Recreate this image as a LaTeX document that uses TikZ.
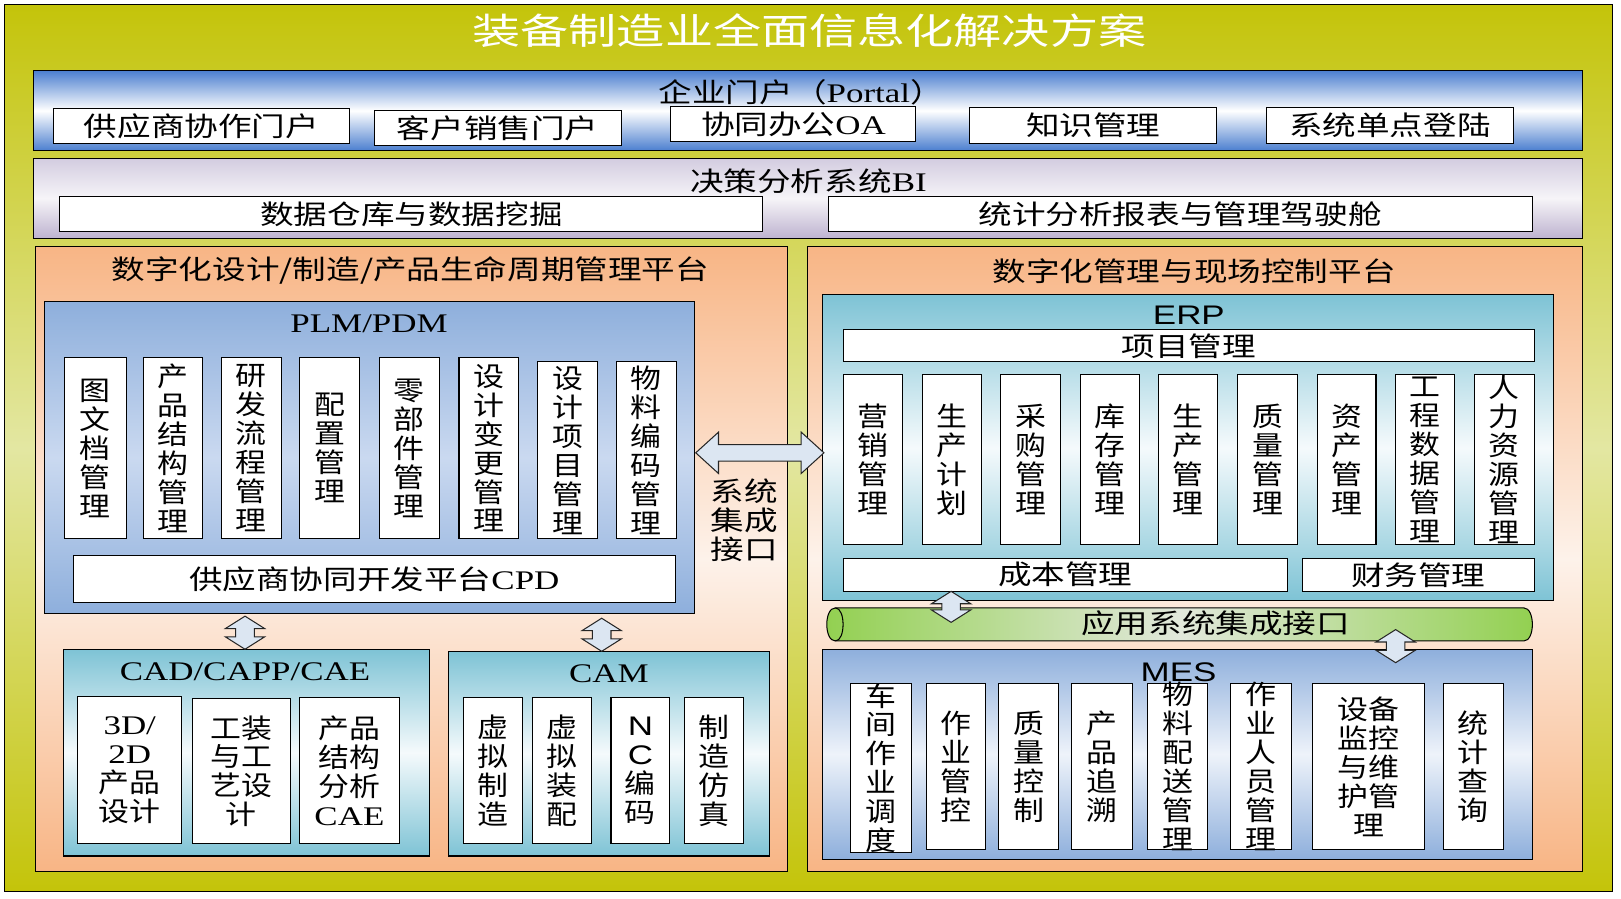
\documentclass[tikz,border=0pt]{standalone}
\usepackage{fontspec}
\usetikzlibrary{fit}
\newfontfamily\cjk[FakeStretch=1.25]{Noto Sans CJK SC}
\newfontfamily\cjv[FakeStretch=1.15]{Noto Sans CJK SC}
\newfontfamily\cjt[FakeStretch=1.33]{Noto Sans CJK SC}
\newfontfamily\latr[FakeStretch=1.3]{Liberation Serif}
\newfontfamily\lats[FakeStretch=1.3]{Liberation Sans}
\newcommand\LR[1]{{\latr #1}}
\newcommand\LS[1]{{\lats #1}}
\definecolor{frD}{HTML}{C4C40A}
\definecolor{frL}{HTML}{E3E7A2}
\definecolor{portB}{HTML}{4A7ECF}
\definecolor{biT}{HTML}{D3CCE0}
\definecolor{biB}{HTML}{BDB2CF}
\definecolor{biM}{HTML}{F6F4F8}
\definecolor{platO}{HTML}{F8B585}
\definecolor{platM}{HTML}{FDF2EA}
\definecolor{plmB}{HTML}{8EAFDC}
\definecolor{plmM}{HTML}{CAD9F0}
\definecolor{tealB}{HTML}{7EC3D5}
\definecolor{tealM}{HTML}{F5FAFC}
\definecolor{mesM}{HTML}{EEF3FA}
\definecolor{pipeG}{HTML}{92D050}
\definecolor{pipeM}{HTML}{E2E8DC}
\definecolor{arrF}{HTML}{DCE6F2}
\newcommand\colbox[6]{\node[box, fit={(#2,#3) (#4,#5)}] (#1) {};
  \node[vtxt] (#1-t) at (#1.center) {#6};}
\newcommand\tbox[6]{\node[box, fit={(#2,#3) (#4,#5)}] (#1) {};
  \node[lbl] (#1-t) at (#1.center) {#6};}
\newcommand\vdarr[3]{\draw[arr] (#1,#2) -- ++(19,12) -- ++(-10,0) -- (#1+9,#3-12) -- ++(10,0) -- (#1,#3) -- ++(-19,-12) -- ++(10,0) -- (#1-9,#2+12) -- ++(-10,0) -- cycle;}
\newcommand\hdarr[3]{\draw[arr] (#2,#1) -- ++(22,-20) -- ++(0,12) -- (#3-22,#1-8) -- ++(0,-12) -- (#3,#1) -- ++(-22,20) -- ++(0,-12) -- (#2+22,#1+8) -- ++(0,12) -- cycle;}
\begin{document}
\begin{tikzpicture}[x=0.5pt,y=-0.5pt,
  box/.style={draw=black, line width=0.5pt, fill=white, inner sep=0pt},
  panel/.style={draw=black, line width=0.5pt, inner sep=0pt},
  lbl/.style={inner sep=0pt, font=\cjk\fontsize{13}{15}\selectfont},
  vtxt/.style={inner sep=0pt, align=center, font=\cjv\fontsize{13}{14}\selectfont},
  ttl/.style={inner sep=0pt, font=\latr\fontsize{13}{15}\selectfont},
  ttls/.style={inner sep=0pt, font=\lats\fontsize{13}{15}\selectfont},
  arr/.style={draw=black!85, line width=0.5pt, fill=arrF, line join=miter}]
\useasboundingbox (0,0) rectangle (1568,869);
\fill[white] (0,0) rectangle (1568,869);
% outer frame
\node[panel, line width=0.6pt, top color=frD, bottom color=frD, middle color=frL, fit={(4,4) (1560,862)}] (frame) {};
\node[text=white, inner sep=0pt, font=\cjt\fontsize{17.5}{20}\selectfont] (title) at (783,30) {装备制造业全面信息化解决方案};
% portal
\node[panel, top color=portB, bottom color=portB, middle color=white, fit={(32,68) (1531,146)}] (portal) {};
\node[lbl] (portalT) at (775,89) {企业门户（\LR{Portal}）};
\tbox{p1}{52}{105}{338}{139}{供应商协作门户}
\tbox{p2}{362}{107}{601}{141}{客户销售门户}
\tbox{p3}{649}{103}{886}{137}{协同办公\LR{OA}}
\tbox{p4}{938}{104}{1177}{139}{知识管理}
\tbox{p5}{1225}{104}{1464}{139}{系统单点登陆}
% BI
\node[panel, top color=biT, bottom color=biB, middle color=biM, fit={(32,153) (1531,231)}] (bi) {};
\node[lbl] (biT) at (782,175) {决策分析系统\LR{BI}};
\tbox{b1}{58}{190}{738}{224}{数据仓库与数据挖掘}
\tbox{b2}{801}{190}{1482}{224}{统计分析报表与管理驾驶舱}
% platforms
\node[panel, top color=platO, bottom color=platO, middle color=platM, fit={(34,238) (762,843)}] (lp) {};
\node[lbl] (lpT) at (397,262) {数字化设计/制造/产品生命周期管理平台};
\node[panel, top color=platO, bottom color=platO, middle color=platM, fit={(781,238) (1531,843)}] (rp) {};
\node[lbl] (rpT) at (1155,262) {数字化管理与现场控制平台};
% PLM
\node[panel, top color=plmB, bottom color=plmB, middle color=plmM, fit={(43,292) (672,593)}] (plm) {};
\node[ttl] (plmT) at (357,313) {PLM/PDM};
\colbox{c1}{62}{346}{122}{521}{图\\文\\档\\管\\理}
\colbox{c2}{139}{346}{196}{521}{产\\品\\结\\构\\管\\理}
\colbox{c3}{214}{346}{272}{521}{研\\发\\流\\程\\管\\理}
\colbox{c4}{290}{346}{348}{521}{配\\置\\管\\理}
\colbox{c5}{367}{346}{425}{521}{零\\部\\件\\管\\理}
\colbox{c6}{444}{346}{502}{521}{设\\计\\变\\更\\管\\理}
\colbox{c7}{520}{350}{578}{521}{设\\计\\项\\目\\管\\理}
\colbox{c8}{596}{350}{654}{521}{物\\料\\编\\码\\管\\理}
\tbox{cpd}{71}{537}{653}{583}{供应商协同开发平台\LR{CPD}}
% CAD
\node[panel, top color=tealB, bottom color=tealB, middle color=tealM, fit={(61,628) (415,828)}] (cad) {};
\node[ttl] (cadT) at (237,650) {CAD/CAPP/CAE};
\colbox{d1}{75}{674}{176}{816}{\LR{3D/}\\\LR{2D}\\产品\\设计}
\colbox{d2}{186}{676}{281}{816}{工装\\与工\\艺设\\计}
\colbox{d3}{290}{675}{386}{816}{产品\\结构\\分析\\\LR{CAE}}
% CAM
\node[panel, top color=tealB, bottom color=tealB, middle color=tealM, fit={(434,630) (744,828)}] (cam) {};
\node[ttl] (camT) at (589,652) {CAM};
\colbox{m1}{448}{675}{505}{816}{虚\\拟\\制\\造}
\colbox{m2}{515}{675}{572}{816}{虚\\拟\\装\\配}
\colbox{m3}{591}{675}{648}{816}{\LS{N}\\\LS{C}\\编\\码}
\colbox{m4}{662}{675}{719}{816}{制\\造\\仿\\真}
% ERP
\node[panel, top color=tealB, bottom color=tealB, middle color=tealM, fit={(796,285) (1503,581)}] (erp) {};
\node[ttls] (erpT) at (1150,305) {ERP};
\tbox{xm}{816}{319}{1484}{350}{项目管理}
\colbox{e1}{816}{362}{873}{527}{营\\销\\管\\理}
\colbox{e2}{892}{362}{949}{527}{生\\产\\计\\划}
\colbox{e3}{968}{362}{1026}{527}{采\\购\\管\\理}
\colbox{e4}{1045}{362}{1102}{527}{库\\存\\管\\理}
\colbox{e5}{1121}{362}{1178}{527}{生\\产\\管\\理}
\colbox{e6}{1197}{362}{1255}{527}{质\\量\\管\\理}
\colbox{e7}{1274}{362}{1331}{527}{资\\产\\管\\理}
\colbox{e8}{1350}{362}{1407}{527}{工\\程\\数\\据\\管\\理}
\colbox{e9}{1426}{362}{1484}{527}{人\\力\\资\\源\\管\\理}
\tbox{cb}{816}{540}{1245}{572}{成本管理}
\tbox{cw}{1260}{540}{1484}{572}{财务管理}
% pipe
\path[draw=black, line width=0.5pt, left color=pipeG, right color=pipeG, middle color=pipeM]
  (808,588) -- (1474,588) .. controls (1485,588) and (1485,620) .. (1474,620)
  -- (808,620) .. controls (797,620) and (797,588) .. (808,588) -- cycle;
\draw[line width=0.5pt] (808,588) .. controls (818,588) and (818,620) .. (808,620);
\node[lbl] (pipeT) at (1176,603) {应用系统集成接口};
% MES
\node[panel, top color=plmB, bottom color=plmB, middle color=mesM, fit={(796,628) (1482,831)}] (mes) {};
\colbox{s1}{823}{661}{882}{825}{车\\间\\作\\业\\调\\度}
\colbox{s2}{896}{661}{953}{822}{作\\业\\管\\控}
\colbox{s3}{966}{661}{1024}{822}{质\\量\\控\\制}
\colbox{s4}{1036}{661}{1095}{822}{产\\品\\追\\溯}
\colbox{s5}{1110}{661}{1168}{822}{物\\料\\配\\送\\管\\理}
\colbox{s6}{1190}{661}{1249}{822}{作\\业\\人\\员\\管\\理}
\colbox{s7}{1270}{661}{1378}{822}{设备\\监控\\与维\\护管\\理}
\colbox{s8}{1396}{661}{1454}{822}{统\\计\\查\\询}
\node[ttls] (mesT) at (1140,650) {MES};
% arrows
\hdarr{438}{673}{797}
\node[vtxt, font=\cjk\fontsize{13}{14}\selectfont] (sjT) at (720,503) {系统\\集成\\接口};
\vdarr{237}{596}{628}
\vdarr{582}{598}{630}
\vdarr{920}{572}{602}
\vdarr{1350}{609}{641}
\end{tikzpicture}
\end{document}
